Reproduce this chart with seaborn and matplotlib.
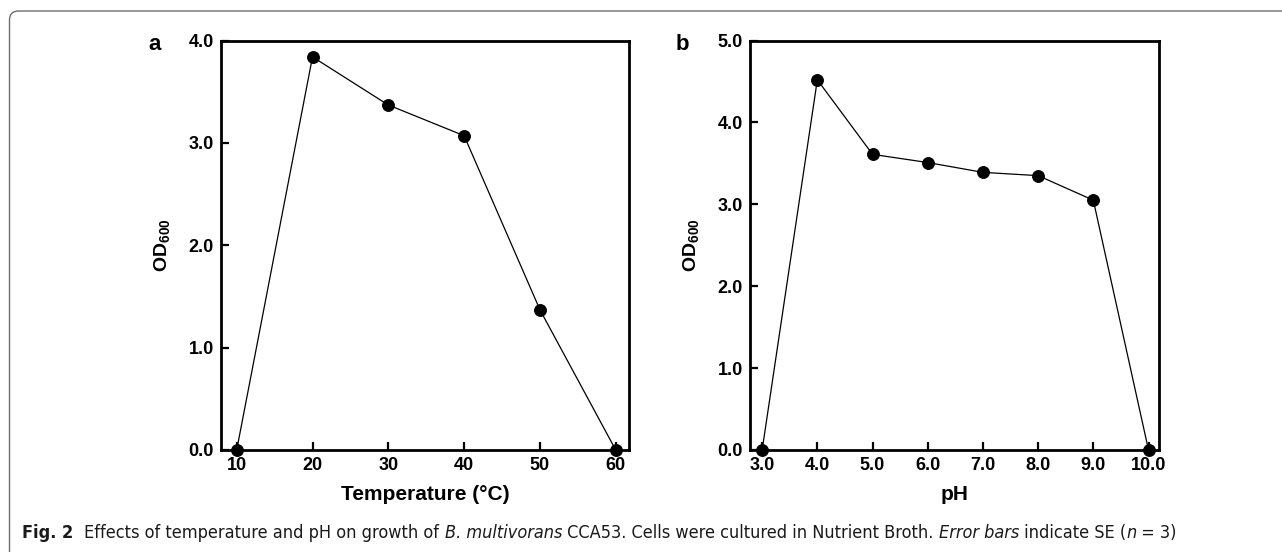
import numpy as np
import pandas as pd
import matplotlib
matplotlib.use("Agg")
from matplotlib import pyplot as plt
from matplotlib import font_manager
from matplotlib.patches import FancyBboxPatch
import seaborn as sns

# panel a: growth vs temperature
temperature = [10, 20, 30, 40, 50, 60]
od_temp = [0.0, 3.84, 3.37, 3.07, 1.37, 0.0]

# panel b: growth vs pH
ph = [3.0, 4.0, 5.0, 6.0, 7.0, 8.0, 9.0, 10.0]
od_ph = [0.0, 4.52, 3.61, 3.51, 3.39, 3.35, 3.05, 0.0]

temp_ticks = [10, 20, 30, 40, 50, 60]
temp_yticks = [0.0, 1.0, 2.0, 3.0, 4.0]
ph_ticks = [3.0, 4.0, 5.0, 6.0, 7.0, 8.0, 9.0, 10.0]
ph_yticks = [0.0, 1.0, 2.0, 3.0, 4.0, 5.0]

caption = [
    ("Fig. 2", "bold", "normal", "  "),
    ("Effects of temperature and pH on growth of ", "normal", "normal", ""),
    ("B. multivorans", "normal", "italic", ""),
    (" CCA53. Cells were cultured in Nutrient Broth. ", "normal", "normal", ""),
    ("Error bars", "normal", "italic", ""),
    (" indicate SE (", "normal", "normal", ""),
    ("n", "normal", "italic", ""),
    (" = 3)", "normal", "normal", ""),
]

sns.set_style("ticks")
plt.rcParams["font.family"] = ["Liberation Sans", "DejaVu Sans"]
plt.rcParams["text.color"] = "black"
plt.rcParams["axes.labelcolor"] = "black"
plt.rcParams["xtick.color"] = "black"
plt.rcParams["ytick.color"] = "black"
plt.rcParams["mathtext.fontset"] = "custom"
plt.rcParams["mathtext.bf"] = "Liberation Sans:bold"
plt.rcParams["mathtext.rm"] = "Liberation Sans:bold"
plt.rcParams["mathtext.default"] = "bf"

names = {f.name for f in font_manager.fontManager.ttflist}
if "Liberation Sans Narrow" in names:
    cap_family, cap_stretch = ["Liberation Sans Narrow", "DejaVu Sans"], "normal"
else:
    cap_family, cap_stretch = ["DejaVu Sans"], "condensed"

W, H = 1282, 552
fig = plt.figure(figsize=(W / 100, H / 100), dpi=100)

# rounded outer frame
frame = FancyBboxPatch((9.5 / W, -20 / H), (W + 40) / W, (H + 9) / H,
                       boxstyle="round,pad=0,rounding_size=0.007",
                       transform=fig.transFigure, fill=False,
                       edgecolor="#6e6e6e", linewidth=1.0, mutation_aspect=W / H)
fig.patches.append(frame)

ax1 = fig.add_axes([221 / W, 1 - 450 / H, (629 - 221) / W, (450 - 40.5) / H])
ax2 = fig.add_axes([750 / W, 1 - 450 / H, (1159 - 750) / W, (450 - 40.5) / H])

df_a = pd.DataFrame({"x": temperature, "y": od_temp})
df_b = pd.DataFrame({"x": ph, "y": od_ph})

panels = [
    (ax1, df_a, temp_ticks, temp_yticks, (7.93, 61.75), (0, 4.0),
     "Temperature (°C)", ["10", "20", "30", "40", "50", "60"], "a", 155),
    (ax2, df_b, ph_ticks, ph_yticks, (2.78, 10.19), (0, 5.0),
     "pH", [f"{v:.1f}" for v in ph_ticks], "b", 682),
]

for ax, df, xt, yt, xl, yl, xlabel, xtl, letter, lx in panels:
    sns.lineplot(data=df, x="x", y="y", ax=ax, color="black", linewidth=0.9,
                 marker="o", markersize=8.5, markeredgecolor="black",
                 markerfacecolor="black", clip_on=False, zorder=5)
    ax.set_xlim(*xl)
    ax.set_ylim(*yl)
    ax.set_xticks(xt)
    ax.set_xticklabels(xtl)
    ax.set_yticks(yt)
    ax.set_yticklabels([f"{v:.1f}" for v in yt])
    for s in ax.spines.values():
        s.set_visible(True)
        s.set_linewidth(2.0)
        s.set_color("black")
    ax.tick_params(direction="in", length=6, width=1.6, color="black",
                   labelcolor="black", labelsize=13, pad=5)
    for lab in ax.get_xticklabels() + ax.get_yticklabels():
        lab.set_fontweight("bold")
    ax.set_xlabel(xlabel, fontsize=15, fontweight="bold", labelpad=8,
                  color="black")
    ax.set_ylabel("OD$_{600}$", fontsize=14, fontweight="bold", labelpad=12,
                  color="black")
    fig.text(lx / W, 1 - 44 / H, letter, fontsize=16, fontweight="bold",
             ha="center", va="center", color="black")

# caption built piece by piece, sized to span the same width as the figure's
fig.canvas.draw()
renderer = fig.canvas.get_renderer()


def put_caption(size, draw):
    x = 22
    made = []
    for txt, weight, style, gap in caption:
        t = fig.text(x / W, 1 - 533 / H, txt + gap, fontsize=size,
                     family=cap_family, fontstretch=cap_stretch,
                     fontweight=weight, fontstyle=style, va="center", ha="left",
                     color="#1a1a1a")
        x += t.get_window_extent(renderer).width
        made.append(t)
    if not draw:
        for t in made:
            t.remove()
    return x - 22


span = put_caption(10, False)
put_caption(10 * 1155 / span, True)

fig.savefig("out.png", dpi=100)
